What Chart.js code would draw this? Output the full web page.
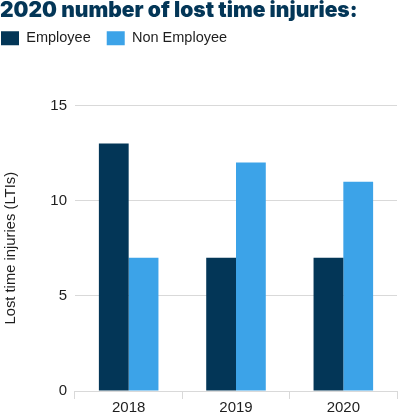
<!DOCTYPE html>
<html>
<head>
<meta charset="utf-8">
<script src="https://cdn.jsdelivr.net/npm/chart.js@4"></script>
<style>
  html, body { margin: 0; padding: 0; background: #ffffff; }
  #wrap { width: 398px; height: 413px; position: relative; }
</style>
</head>
<body>
<div id="wrap"><canvas id="ltiChart"></canvas></div>
<script>
// Data
const years = ["2018", "2019", "2020"];
const employee = [13, 7, 7];
const nonEmployee = [7, 12, 11];
const yTicks = [0, 5, 10, 15];

const NAVY = "#033657";
const BLUE = "#3ca3e8";
const TEXT = "#1e1e1e";
const GRID = "#d9d9d9";

// push the plot down under the legend and move legend to the left edge
const legendSpacing = {
  id: "legendSpacing",
  beforeInit(chart) {
    const fit = chart.legend.fit;
    chart.legend.fit = function () {
      fit.call(this);
      this.height += 50;
    };
  },
  afterLayout(chart) {
    chart.legend.left -= 15;
  },
};

const ctx = document.getElementById("ltiChart").getContext("2d");

new Chart(ctx, {
  type: "bar",
  data: {
    labels: years,
    datasets: [
      {
        label: "Employee",
        data: employee,
        backgroundColor: NAVY,
        categoryPercentage: 0.555,
        barPercentage: 1.0,
      },
      {
        label: "Non Employee",
        data: nonEmployee,
        backgroundColor: BLUE,
        categoryPercentage: 0.555,
        barPercentage: 1.0,
      },
    ],
  },
  options: {
    responsive: true,
    maintainAspectRatio: false,
    animation: false,
    layout: { padding: { left: 0, right: 1, top: 0, bottom: 0 } },
    plugins: {
      title: {
        display: true,
        text: "2020 number of lost time injuries:",
        align: "start",
        color: NAVY,
        font: { family: "Inter, 'Liberation Sans', sans-serif", size: 21, weight: 900, lineHeight: 1 },
        padding: { top: 0, bottom: -6 },
      },
      legend: {
        display: true,
        align: "start",
        labels: {
          color: TEXT,
          boxWidth: 18,
          boxHeight: 14,
          padding: 16,
          font: { family: "'Liberation Sans', Arial, sans-serif", size: 14.5 },
        },
      },
      tooltip: { enabled: false },
    },
    scales: {
      x: {
        grid: {
          offset: true,
          drawOnChartArea: false,
          color: GRID,
          tickLength: 8,
        },
        border: { display: false },
        ticks: {
          color: TEXT,
          padding: 0,
          font: { family: "'Liberation Sans', Arial, sans-serif", size: 15 },
        },
        afterFit(scale) {
          scale.height = 22;
        },
      },
      y: {
        min: 0,
        max: 15,
        afterBuildTicks(scale) {
          scale.ticks = yTicks.map((v) => ({ value: v }));
        },
        grid: { color: GRID, drawTicks: false },
        border: { display: false },
        ticks: {
          color: TEXT,
          padding: 8,
          font: { family: "'Liberation Sans', Arial, sans-serif", size: 15 },
        },
        title: {
          display: true,
          text: "Lost time injuries (LTIs)",
          color: TEXT,
          padding: { top: 2, bottom: 0 },
          font: { family: "'Liberation Sans', Arial, sans-serif", size: 14.8 },
        },
        afterFit(scale) {
          scale.width = 75;
        },
      },
    },
  },
  plugins: [legendSpacing],
});
</script>
</body>
</html>
